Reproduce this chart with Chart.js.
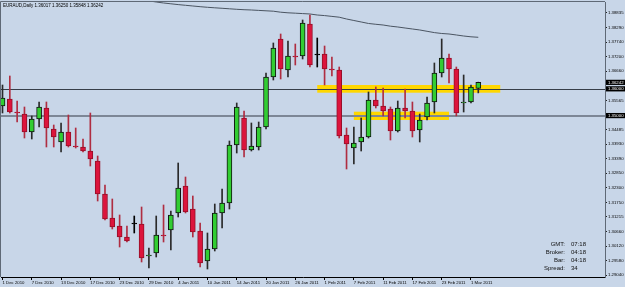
<!DOCTYPE html>
<html><head><meta charset="utf-8">
<script src="https://cdn.jsdelivr.net/npm/chart.js@4/dist/chart.umd.min.js"></script>
<style>html,body{margin:0;padding:0;background:#c8d6e8;overflow:hidden}canvas{display:block}</style>
</head><body>
<canvas id="c" width="625" height="287"></canvas>
<script>
// ---- data ----
const opens  = [1.35358,1.35620,1.35134,1.35059,1.34386,1.34872,1.35284,1.34499,1.34013,1.34386,
                1.33863,1.33826,1.33676,1.33302,1.32069,1.31171,1.30872,1.30461,1.30947,1.30947,
                1.29751,1.29863,1.30536,1.30723,1.31358,1.32368,1.31508,1.30686,1.29564,1.30013,
                1.31358,1.31732,1.33900,1.34910,1.33714,1.33826,1.34573,1.36443,1.37863,1.36704,
                1.37228,1.37228,1.38424,1.37265,1.37302,1.36742,1.36704,1.34274,1.33788,1.34013,
                1.34200,1.35583,1.35358,1.35246,1.34424,1.35284,1.35172,1.34461,1.34947,1.35508,
                1.36592,1.37153,1.36742,1.35471,1.35508,1.36017];
const highs  = [1.36143,1.36480,1.35545,1.35321,1.34985,1.35508,1.35508,1.34648,1.34723,1.35022,
                1.34536,1.34125,1.35097,1.33489,1.32405,1.31882,1.31284,1.30872,1.31246,1.31583,
                1.30050,1.31246,1.31658,1.31433,1.33228,1.32704,1.31994,1.30985,1.30611,1.31695,
                1.32256,1.34050,1.35471,1.35172,1.34723,1.34760,1.36592,1.37714,1.38050,1.37788,
                1.37676,1.38573,1.38760,1.37900,1.37601,1.37190,1.36816,1.34536,1.34573,1.34910,
                1.35882,1.36069,1.36031,1.35321,1.35545,1.35994,1.35508,1.35059,1.35695,1.36966,
                1.37863,1.37302,1.36816,1.36517,1.36143,1.36250];
const lows   = [1.35097,1.35097,1.34760,1.34162,1.34125,1.34573,1.33826,1.33826,1.33639,1.33826,
                1.33788,1.33639,1.33115,1.31807,1.31097,1.30760,1.30087,1.30274,1.30611,1.29527,
                1.29302,1.29714,1.30274,1.29975,1.31209,1.31359,1.30461,1.29340,1.29265,1.29938,
                1.30797,1.31508,1.33601,1.33452,1.33676,1.33714,1.34499,1.36330,1.36368,1.36443,
                1.36891,1.37115,1.36816,1.36816,1.36143,1.36480,1.34162,1.33003,1.33190,1.33676,
                1.34162,1.35284,1.34985,1.34087,1.34386,1.34910,1.34200,1.34013,1.34835,1.35097,
                1.36443,1.36218,1.34990,1.35134,1.35471,1.35848];
const closes = [1.35657,1.35134,1.35097,1.34386,1.34872,1.35321,1.34536,1.34200,1.34386,1.33863,
                1.33826,1.33676,1.33377,1.32069,1.31134,1.30835,1.30461,1.30312,1.30947,1.29676,
                1.29788,1.30536,1.30499,1.31284,1.32293,1.31396,1.30648,1.29489,1.30013,1.31358,
                1.31732,1.33900,1.35321,1.33714,1.33863,1.34573,1.36443,1.37527,1.36742,1.37228,
                1.37190,1.38461,1.36891,1.37265,1.36742,1.36704,1.34237,1.33938,1.33975,1.34200,
                1.35583,1.35358,1.35172,1.34424,1.35284,1.35172,1.34424,1.34835,1.35471,1.36592,
                1.37153,1.36742,1.35097,1.35490,1.36069,1.36242];

const maIndex  = [20,21,22,23,24,25,26,27,28,29,30,31,32,33,34,35,36,37,38,39,40,41,42,
                  43,44,45,46,47,48,49,50,51,52,53,54,55,56,57,58,59,60,61,62,63,64,65];
const maValues = [1.39290,1.39246,1.39209,1.39179,1.39149,1.39123,1.39097,1.39071,1.39048,1.39029,
                  1.39011,1.38992,1.38973,1.38958,1.38947,1.38932,1.38917,1.38902,1.38865,1.38842,
                  1.38828,1.38813,1.38798,1.38760,1.38738,1.38708,1.38678,1.38611,1.38555,1.38499,
                  1.38443,1.38413,1.38386,1.38342,1.38312,1.38274,1.38237,1.38200,1.38151,1.38102,
                  1.38069,1.38050,1.38013,1.37975,1.37945,1.37927];

const xTickIndex  = [0,4,8,12,16,20,24,28,32,36,40,44,48,52,56,60,64];
const xTickLabels = ["1 Dec 2010","7 Dec 2010","13 Dec 2010","17 Dec 2010","23 Dec 2010","29 Dec 2010",
                     "4 Jan 2011","10 Jan 2011","14 Jan 2011","20 Jan 2011","26 Jan 2011","1 Feb 2011",
                     "7 Feb 2011","11 Feb 2011","17 Feb 2011","23 Feb 2011","1 Mar 2011"];
const yTickValues = [1.38835,1.38290,1.37740,1.37200,1.36660,1.35565,1.34485,1.33930,1.33390,
                     1.32850,1.32300,1.31750,1.31215,1.30660,1.30120,1.29580,1.29040];

const hLineValues = [1.36000, 1.35000];
const bandFrom = [43, 48];
const bandTo   = [68, 61];
const bandHigh = [1.36143, 1.35145];
const bandLow  = [1.35856, 1.34835];
const currentPrice = 1.36242;
const headerText = "EURAUD,Daily 1.36017 1.36250 1.35848 1.36242";
const infoLabels = ["GMT:", "Broker:", "Bar:", "Spread:"];
const infoValues = ["07:18", "04:18", "04:18", "34"];

// ---- styling ----
const BG = 'rgb(200,214,232)';
const FONT = "'Liberation Sans', Arial, sans-serif";
const FS = 4.3;
const bull = 'rgb(50,205,50)', bear = 'rgb(220,20,60)';

const dir = closes.map((c, i) => c > opens[i] ? 1 : (c < opens[i] ? -1 : 0));
const bodyFill   = dir.map(d => d > 0 ? bull : (d < 0 ? bear : '#000'));
const bodyBorder = dir.map(d => d > 0 ? '#111' : (d < 0 ? 'rgb(150,15,40)' : '#000'));
const wickColor  = dir.map(d => d > 0 ? '#2a2a2a' : (d < 0 ? 'rgb(175,45,65)' : '#000'));

const bodies = opens.map((o, i) => ({x: i, y: [o, closes[i]]}));
const wicks  = lows.map((l, i) => ({x: i, y: [l, highs[i]]}));
const ma     = maIndex.map((ix, k) => ({x: ix, y: maValues[k]}));

const decor = {
  id: 'decor',
  beforeDraw(chart) {
    const ctx = chart.ctx;
    ctx.save(); ctx.fillStyle = BG; ctx.fillRect(0, 0, chart.width, chart.height); ctx.restore();
  },
  beforeDatasetsDraw(chart) {
    const {ctx, chartArea: a, scales: {x, y}} = chart;
    ctx.save();
    ctx.beginPath(); ctx.rect(a.left, a.top, a.right - a.left, a.bottom - a.top); ctx.clip();
    ctx.fillStyle = 'rgb(255,215,0)';
    for (let k = 0; k < bandFrom.length; k++) {
      const x0 = x.getPixelForValue(bandFrom[k]), x1 = x.getPixelForValue(bandTo[k]);
      const y0 = y.getPixelForValue(bandHigh[k]), y1 = y.getPixelForValue(bandLow[k]);
      ctx.fillRect(x0, y0, x1 - x0, y1 - y0);
    }
    let yy = Math.round(y.getPixelForValue(hLineValues[0])) + 0.5;
    ctx.strokeStyle = 'rgb(55,62,72)'; ctx.lineWidth = 1;
    ctx.beginPath(); ctx.moveTo(a.left, yy); ctx.lineTo(a.right, yy); ctx.stroke();
    yy = Math.round(y.getPixelForValue(hLineValues[1]));
    ctx.strokeStyle = 'rgb(125,135,150)'; ctx.lineWidth = 2;
    ctx.beginPath(); ctx.moveTo(a.left, yy); ctx.lineTo(a.right, yy); ctx.stroke();
    ctx.restore();
  },
  afterDraw(chart) {
    const {ctx, chartArea: a, scales: {y}} = chart;
    ctx.save();
    ctx.strokeStyle = 'rgb(95,105,118)'; ctx.lineWidth = 1;
    ctx.beginPath();
    ctx.moveTo(a.left - 0.5, a.bottom); ctx.lineTo(a.left - 0.5, a.top - 0.5); ctx.lineTo(a.right, a.top - 0.5);
    ctx.stroke();
    ctx.font = FS + 'px ' + FONT;
    ctx.textBaseline = 'middle'; ctx.textAlign = 'left';
    [currentPrice, hLineValues[0], hLineValues[1]].forEach(v => {
      const py = y.getPixelForValue(v);
      ctx.fillStyle = '#000';
      ctx.fillRect(a.right + 1, py - 2.6, chart.width - a.right - 1, 5.2);
      ctx.fillStyle = '#fff';
      ctx.fillText(v.toFixed(5), a.right + 3, py + 0.2);
    });
    ctx.fillStyle = '#000';
    ctx.font = '4.5px ' + FONT;
    ctx.fillText(headerText, a.left + 2, a.top + 3.5);
    ctx.font = '6px ' + FONT;
    ctx.fillStyle = '#111';
    for (let k = 0; k < infoLabels.length; k++) {
      const ry = a.bottom - 33 + k * 8;
      ctx.textAlign = 'right'; ctx.fillText(infoLabels[k], a.right - 40, ry);
      ctx.textAlign = 'left';  ctx.fillText(infoValues[k], a.right - 34, ry);
    }
    ctx.restore();
  }
};

new Chart(document.getElementById('c'), {
  type: 'bar',
  data: {
    datasets: [
      {label: 'body', data: bodies, backgroundColor: bodyFill, borderColor: bodyBorder,
       borderWidth: 1, borderSkipped: false, barThickness: 5, minBarLength: 1, grouped: false},
      {label: 'wick', data: wicks, backgroundColor: wickColor, borderWidth: 0,
       barThickness: 1, grouped: false},
      {type: 'line', label: 'ma', data: ma, borderColor: 'rgb(75,85,98)', borderWidth: 1,
       pointRadius: 0, tension: 0, fill: false}
    ]
  },
  options: {
    responsive: false, animation: false, devicePixelRatio: 1,
    layout: {padding: {left: 1, top: 2, right: 0, bottom: 0}},
    plugins: {legend: {display: false}, tooltip: {enabled: false}},
    scales: {
      x: {
        type: 'linear', offset: false, min: -0.205, max: 82.31,
        afterBuildTicks: s => { s.ticks = xTickIndex.map(v => ({value: v})); },
        afterFit: s => { s.height = 10; s.paddingLeft = 0; s.paddingRight = 0; },
        grid: {drawOnChartArea: false, drawTicks: true, tickLength: 3, color: '#000', offset: false},
        border: {display: true, color: '#000', width: 1},
        ticks: {
          autoSkip: false, maxRotation: 0, align: 'start', padding: 0, color: '#000',
          font: {size: FS, family: FONT},
          callback: v => { const k = xTickIndex.indexOf(v); return k >= 0 ? xTickLabels[k] : ''; }
        }
      },
      y: {
        position: 'right', min: 1.28966, max: 1.39246,
        afterBuildTicks: s => { s.ticks = yTickValues.map(v => ({value: v})); },
        afterFit: s => { s.width = 20; s.paddingTop = 0; s.paddingBottom = 0; },
        grid: {drawOnChartArea: false, drawTicks: true, tickLength: 2, color: '#222'},
        border: {display: true, color: 'rgb(95,105,118)', width: 1},
        ticks: {
          autoSkip: false, padding: 1, color: '#000',
          font: {size: FS, family: FONT},
          callback: v => Number(v).toFixed(5)
        }
      }
    }
  },
  plugins: [decor]
});
</script>
</body></html>
